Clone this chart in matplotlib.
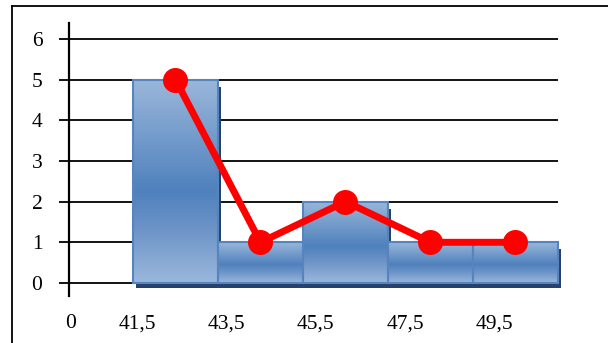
import numpy as np
import matplotlib
matplotlib.use("Agg")
import matplotlib.pyplot as plt
from matplotlib.patches import Rectangle
from matplotlib.lines import Line2D
from matplotlib.colors import LinearSegmentedColormap

# dane histogramu
etykiety = ["0", "41,5", "43,5", "45,5", "47,5", "49,5"]
liczebnosc = [5, 1, 2, 1, 1]
y_ticks = [0, 1, 2, 3, 4, 5, 6]

plt.rcParams['font.family'] = ['Liberation Serif', 'DejaVu Serif']

W, H = 608, 343
fig = plt.figure(figsize=(W / 100, H / 100), dpi=100)

# osie - piksele: os y w x=69, slupki od 133 co 85 px
x_left, x_right = -0.753, 5.03
ax = fig.add_axes([69 / W, (H - 296) / H, (560.5 - 69) / W, 273 / H])
ax.set_xlim(x_left, x_right)
ax.set_ylim(-0.32, 6.39)

for s in ["top", "right", "bottom"]:
    ax.spines[s].set_visible(False)
ax.spines["left"].set_linewidth(1.6)
ax.spines["left"].set_zorder(1)

# linie siatki
ax.hlines(y_ticks, x_left, 5.0, colors="black", linewidth=1.3, zorder=1)
ax.set_yticks(y_ticks)
ax.set_yticklabels([str(v) for v in y_ticks])
ax.tick_params(axis="y", direction="out", length=7.2, width=1.3, pad=12,
               labelsize=15.5)

# gradient slupkow (gora jasna, ciemny pas ponizej srodka, dol jasny)
cmap = LinearSegmentedColormap.from_list(
    "slupek", [(0.0, "#9AB7DA"), (0.55, "#4F81BD"), (0.75, "#6F95C9"),
               (1.0, "#9AB8DB")])
grad = np.linspace(0, 1, 256).reshape(-1, 1)

dx = 3 / 85.0
dy = 5 / 40.67
for i, h in enumerate(liczebnosc):
    x0, x1 = i, i + 1
    # cien (3D)
    ax.add_patch(Rectangle((x0 + dx, -dy), 1, h - 0.05, facecolor="#27426A",
                           edgecolor="none", zorder=2))
    ax.imshow(grad, cmap=cmap, extent=[x0, x1, 0, h], aspect="auto",
              origin="upper", zorder=3, interpolation="bilinear")
    ax.add_patch(Rectangle((x0, 0), 1, h, facecolor="none",
                           edgecolor="#5584BE", linewidth=1.5, zorder=4))

# linia wieloboku
srodki = [i + 0.5 for i in range(len(liczebnosc))]
ax.plot(srodki, liczebnosc, color="#FF0000", linewidth=5, marker="o",
        markersize=17, zorder=6, solid_capstyle="round")

# etykiety osi x
pozycje = [-0.74] + [0.05 + 1.05 * i for i in range(len(etykiety) - 1)]
ax.set_xticks(pozycje)
ax.set_xticklabels(etykiety)
ax.tick_params(axis="x", length=0, pad=13, labelsize=15.5)

ax.set_xlim(x_left, x_right)
ax.set_ylim(-0.32, 6.39)

# ramka wykresu (lewa i gorna krawedz)
fig.add_artist(Line2D([12 / W, 12 / W], [0, 1 - 6 / H], color="black",
                      linewidth=1.3, transform=fig.transFigure))
fig.add_artist(Line2D([12 / W, 1], [1 - 6 / H, 1 - 6 / H], color="black",
                      linewidth=1.3, transform=fig.transFigure))

fig.savefig("out.png", dpi=100)
